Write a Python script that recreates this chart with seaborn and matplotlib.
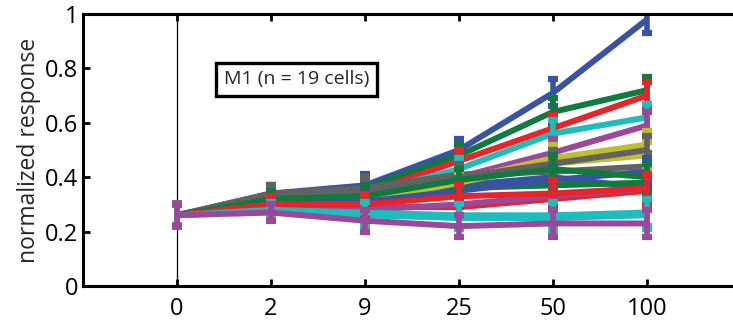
import numpy as np
import pandas as pd
import matplotlib
matplotlib.use("Agg")
import matplotlib.pyplot as plt
import seaborn as sns

doses = ["0", "2", "9", "25", "50", "100"]
cells = [
    [0.26, 0.34, 0.37, 0.50, 0.71, 0.98],
    [0.26, 0.33, 0.36, 0.48, 0.64, 0.72],
    [0.26, 0.32, 0.34, 0.46, 0.58, 0.70],
    [0.26, 0.32, 0.34, 0.43, 0.56, 0.62],
    [0.26, 0.31, 0.33, 0.40, 0.49, 0.59],
    [0.26, 0.31, 0.32, 0.39, 0.47, 0.52],
    [0.26, 0.34, 0.36, 0.41, 0.42, 0.44],
    [0.26, 0.32, 0.32, 0.37, 0.40, 0.36],
    [0.26, 0.31, 0.31, 0.36, 0.37, 0.38],
    [0.26, 0.30, 0.29, 0.29, 0.32, 0.35],
    [0.26, 0.28, 0.26, 0.25, 0.25, 0.26],
    [0.26, 0.29, 0.28, 0.30, 0.33, 0.36],
    [0.26, 0.30, 0.31, 0.38, 0.45, 0.48],
    [0.26, 0.33, 0.34, 0.40, 0.45, 0.50],
    [0.26, 0.31, 0.31, 0.35, 0.39, 0.42],
    [0.26, 0.32, 0.33, 0.39, 0.43, 0.40],
    [0.26, 0.30, 0.30, 0.33, 0.34, 0.36],
    [0.26, 0.28, 0.27, 0.26, 0.26, 0.27],
    [0.26, 0.27, 0.24, 0.22, 0.23, 0.23],
]
err_by_dose = [0.04, 0.03, 0.04, 0.04, 0.05, 0.05]
color_cycle = ["#3953A4", "#0F7B3E", "#E8232A", "#1DBDBD", "#9B479B", "#BEBE30", "#626262"]

sns.set_theme(style="white")
plt.rcParams["font.family"] = ["Open Sans", "DejaVu Sans"]

rows = []
for ci, vals in enumerate(cells):
    for di, v in enumerate(vals):
        rows.append({"cell": ci, "pos": di, "resp": v})
df = pd.DataFrame(rows)
palette = {ci: color_cycle[ci % 7] for ci in range(len(cells))}

fig = plt.figure(figsize=(7.33, 3.26), dpi=100)
ax = fig.add_axes([83 / 733, 40 / 326, 658 / 733, 272 / 326])

ax.plot([0, 0], [0, 1], color="black", lw=0.9, zorder=1)

for ci, vals in enumerate(cells):
    sub = df[df["cell"] == ci]
    sns.lineplot(data=sub, x="pos", y="resp", color=palette[ci], lw=4.3,
                 ax=ax, legend=False, zorder=2 + ci, solid_capstyle="butt")
    ax.errorbar(sub["pos"], sub["resp"], yerr=err_by_dose, fmt="none",
                ecolor=palette[ci], elinewidth=4, capsize=3.5, capthick=4.5,
                zorder=2 + ci)

ax.set_xlim(-1, 6)
ax.set_ylim(0, 1)
ax.set_xticks(range(len(doses)))
ax.set_xticklabels(doses)
ax.set_yticks([0, 0.2, 0.4, 0.6, 0.8, 1.0])
ax.set_yticklabels(["0", "0.2", "0.4", "0.6", "0.8", "1"])
ax.set_xlabel("")
ax.set_ylabel("normalized response", fontsize=16.5, labelpad=3)
ax.tick_params(axis="both", direction="in", length=5, width=2, labelsize=17,
               top=True, right=False, bottom=True, left=True, colors="black")
ax.tick_params(axis="x", pad=8)
for s in ["left", "bottom", "top", "right"]:
    ax.spines[s].set_linewidth(2.2)
    ax.spines[s].set_color("black")

ax.text(0.5, 0.76, "M1 (n = 19 cells)", fontsize=14, ha="left", va="center",
        bbox=dict(boxstyle="square,pad=0.4", fc="white", ec="black", lw=2.4),
        zorder=30)

fig.savefig("out.png", dpi=100)
